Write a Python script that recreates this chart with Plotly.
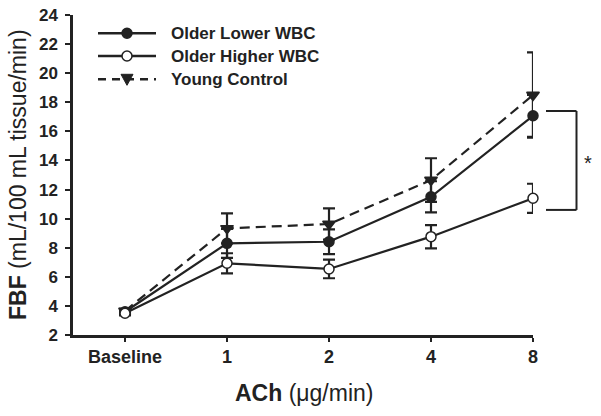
import plotly.graph_objects as go

# ---- data ----
categories = ["Baseline", "1", "2", "4", "8"]
lower_wbc = [3.6, 8.3, 8.41, 11.5, 17.07]
lower_wbc_err = [0.15, 1.0, 0.85, 1.07, 1.44]
higher_wbc = [3.5, 6.93, 6.54, 8.76, 11.4]
higher_wbc_err = [0.15, 0.69, 0.64, 0.8, 1.0]
young = [3.65, 9.33, 9.63, 12.65, 18.5]
young_err = [0.15, 1.03, 1.07, 1.5, 2.93]
y_ticks = list(range(2, 25, 2))
series_names = ["Older Lower WBC", "Older Higher WBC", "Young Control"]
bracket_top, bracket_bottom = 17.4, 10.6

# ---- layout geometry (reference pixels) ----
W, H = 601, 416
PL, PR, PT, PB = 73, 533, 15, 335   # plot area edges
PW, PH = PR - PL, PB - PT
INK = "#222222"
FONT = "Arial, 'Liberation Sans', sans-serif"

def px(xp):
    return (xp - PL) / PW

def py(yp):
    return (PB - yp) / PH

xidx = list(range(len(categories)))

fig = go.Figure()

def add_series(vals, errs, name, symbol, fill, dash):
    fig.add_trace(go.Scatter(
        x=xidx, y=vals, name=name, mode="lines+markers",
        line=dict(color=INK, width=2.2, dash=dash),
        marker=dict(symbol=symbol, size=11 if "triangle" in symbol else 10,
                    color=fill, line=dict(color=INK, width=1.5)),
        error_y=dict(type="data", array=errs, visible=True, color=INK,
                     thickness=2.2, width=6),
        cliponaxis=False, showlegend=False,
    ))

add_series(young, young_err, series_names[2], "triangle-down", INK, "10px,6px")
add_series(lower_wbc, lower_wbc_err, series_names[0], "circle", INK, "solid")
add_series(higher_wbc, higher_wbc_err, series_names[1], "circle", "white", "solid")

shapes = []
annotations = []

# manual legend
legend_rows = [33.3, 56, 79.3]
legend_styles = [("circle", INK, "solid"), ("circle", "white", "solid"), ("tri", INK, "dash")]
for name, yrow, (sym, fill, dash) in zip(series_names, legend_rows, legend_styles):
    shapes.append(dict(type="line", xref="paper", yref="paper",
                       x0=px(98), x1=px(156), y0=py(yrow), y1=py(yrow),
                       line=dict(color=INK, width=2.5,
                                 dash="8px,6px" if dash == "dash" else "solid")))
    cx, r = 127, 5
    if sym == "circle":
        shapes.append(dict(type="circle", xref="paper", yref="paper",
                           x0=px(cx - r), x1=px(cx + r), y0=py(yrow - r), y1=py(yrow + r),
                           fillcolor=fill, line=dict(color=INK, width=1.5)))
    else:
        path = "M{},{} L{},{} L{},{} Z".format(px(cx - 6), py(yrow - 5), px(cx + 6), py(yrow - 5),
                                                px(cx), py(yrow + 6))
        shapes.append(dict(type="path", xref="paper", yref="paper", path=path,
                           fillcolor=INK, line=dict(color=INK, width=1)))
    annotations.append(dict(text="<b>%s</b>" % name, xref="paper", yref="paper",
                            x=px(169), y=py(yrow), xanchor="left", yanchor="middle",
                            showarrow=False, font=dict(family=FONT, size=17, color=INK)))

# significance bracket
bx0, bx1 = px(546), px(576.5)
for yv in (bracket_top, bracket_bottom):
    shapes.append(dict(type="line", xref="paper", yref="y", x0=bx0, x1=bx1, y0=yv, y1=yv,
                       line=dict(color=INK, width=2)))
shapes.append(dict(type="line", xref="paper", yref="y", x0=bx1, x1=bx1,
                   y0=bracket_bottom, y1=bracket_top, line=dict(color=INK, width=2)))
annotations.append(dict(text="*", xref="paper", yref="y", x=px(588),
                        y=(bracket_top + bracket_bottom) / 2 - 0.2, xanchor="center", yanchor="middle",
                        showarrow=False, font=dict(family=FONT, size=20, color=INK)))

# axis titles
annotations.append(dict(text="<b>ACh</b> (\u03bcg/min)", xref="paper", yref="paper",
                        x=px(304), y=py(393), xanchor="center", yanchor="middle",
                        showarrow=False, font=dict(family=FONT, size=23, color=INK)))
annotations.append(dict(text="<b>FBF</b> (mL/100 mL tissue/min)", xref="paper", yref="paper",
                        x=px(18), y=py(175), xanchor="center", yanchor="middle", textangle=-90,
                        showarrow=False, font=dict(family=FONT, size=23, color=INK)))

fig.update_layout(
    width=W, height=H,
    margin=dict(l=PL, r=W - PR, t=PT, b=H - PB, autoexpand=False),
    plot_bgcolor="white", paper_bgcolor="white",
    shapes=shapes, annotations=annotations,
    font=dict(family=FONT, color=INK),
    hovermode=False,
)
fig.update_xaxes(range=[-0.51, 4], tickvals=xidx, ticktext=categories,
                 showline=True, linecolor=INK, linewidth=2.5, ticks="outside",
                 ticklen=4, tickwidth=2, tickcolor=INK, showgrid=False, zeroline=False,
                 ticklabeloverflow="allow",
                 tickfont=dict(family=FONT, size=18, color=INK, weight="bold"))
fig.update_yaxes(range=[2, 24], tickvals=y_ticks,
                 showline=True, linecolor=INK, linewidth=2.5, ticks="outside",
                 ticklen=5, tickwidth=2, tickcolor=INK, showgrid=False, zeroline=False,
                 ticklabelstandoff=4, ticklabeloverflow="allow",
                 tickfont=dict(family=FONT, size=17, color=INK, weight="bold"))

fig.write_html("out.html", config={"displayModeBar": False},
               post_script="document.body.style.margin='0';document.body.style.overflow='hidden';")
